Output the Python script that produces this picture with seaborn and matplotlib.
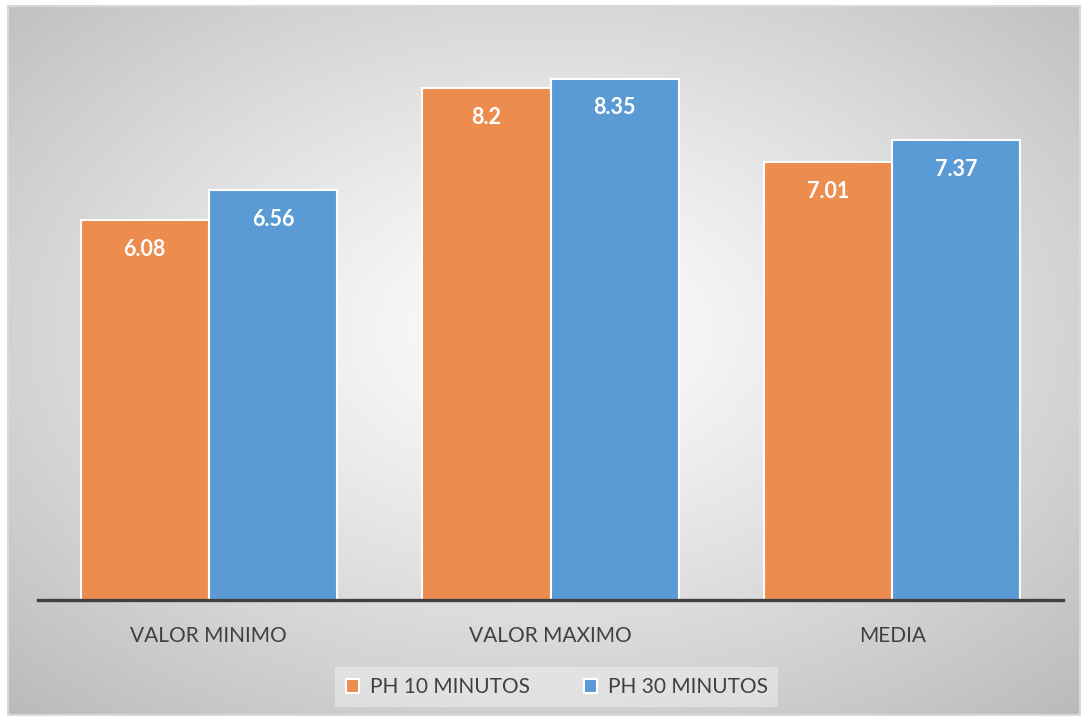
import numpy as np
import pandas as pd
import matplotlib
matplotlib.use("Agg")
import matplotlib.pyplot as plt
import seaborn as sns
from matplotlib.patches import Rectangle

categories = ["VALOR MINIMO", "VALOR MAXIMO", "MEDIA"]
series_names = ["PH 10 MINUTOS", "PH 30 MINUTOS"]
ph10 = [6.08, 8.2, 7.01]
ph30 = [6.56, 8.35, 7.37]
value_labels = {"PH 10 MINUTOS": ["6.08", "8.2", "7.01"],
                "PH 30 MINUTOS": ["6.56", "8.35", "7.37"]}

df = pd.DataFrame({
    "cat": categories * 2,
    "serie": [series_names[0]] * 3 + [series_names[1]] * 3,
    "val": ph10 + ph30,
})

sns.set_theme(style="white")
plt.rcParams["font.family"] = ["Lato", "DejaVu Sans"]

W, H = 1084, 719
fig = plt.figure(figsize=(W / 100, H / 100), dpi=100)
fig.patch.set_facecolor("white")

# radial gradient background
bg = fig.add_axes([0, 0, 1, 1], zorder=-10)
yy, xx = np.mgrid[0:H, 0:W]
cx, cy = 545, 330
d = np.sqrt(((xx - cx) / 540.0) ** 2 + ((yy - cy) / 360.0) ** 2)
v = np.clip(1 - 0.175 * d ** 1.15, 0, 1)
img = np.dstack([v, v, v])
inside = (xx >= 8) & (xx <= 1080) & (yy >= 6) & (yy <= 715)
img[~inside] = 1.0
bg.imshow(img, extent=[0, W, H, 0], aspect="auto", interpolation="bilinear")
bg.add_patch(Rectangle((8, 6), 1072, 709, fill=False, edgecolor="#d9d9d9", lw=1.5))
bg.set_xlim(0, W)
bg.set_ylim(H, 0)
bg.axis("off")

ax = fig.add_axes([38 / W, 1 - 600 / H, (1063 - 38) / W, (600 - 20) / H])
ax.patch.set_alpha(0)

palette = {"PH 10 MINUTOS": "#EC8C4E", "PH 30 MINUTOS": "#5B9BD5"}
sns.barplot(data=df, x="cat", y="val", hue="serie", hue_order=series_names,
            order=categories, palette=palette, width=0.75, gap=0,
            edgecolor="white", linewidth=1.5, saturation=1, ax=ax)

ax.set_ylim(0, 9.29)
ax.set_xlim(-0.5, 2.5)
ax.set_xlabel("")
ax.set_ylabel("")
ax.set_yticks([])
for s in ["top", "left", "right"]:
    ax.spines[s].set_visible(False)
ax.spines["bottom"].set_color("#404040")
ax.spines["bottom"].set_linewidth(2.4)
ax.tick_params(axis="x", length=0, pad=19, labelsize=15, labelcolor="#404040")

for cont, name in zip(ax.containers, series_names):
    for patch, lab in zip(cont.patches, value_labels[name]):
        x = patch.get_x() + patch.get_width() / 2
        y = patch.get_height()
        ax.annotate(lab, (x, y), xytext=(0, -21), textcoords="offset points",
                    ha="center", va="center", color="white",
                    fontsize=15.5, fontweight="bold")

leg = ax.legend(loc="center", bbox_to_anchor=(0.506, -0.15), ncol=2,
                frameon=True, fontsize=15, handlelength=0.65, handleheight=0.65,
                columnspacing=2.6, handletextpad=0.5, borderpad=0.5)
leg.get_frame().set_facecolor("white")
leg.get_frame().set_alpha(0.35)
leg.get_frame().set_edgecolor("none")
leg.get_frame().set_boxstyle("square", pad=0.0)
for t in leg.get_texts():
    t.set_color("#404040")
for h in leg.legend_handles:
    h.set_edgecolor("white")

fig.savefig("out.png", dpi=100)
